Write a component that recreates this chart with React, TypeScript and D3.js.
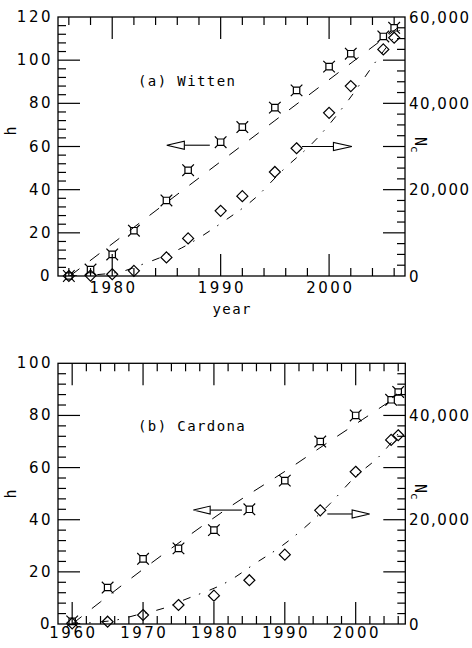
import React from "react";
import * as d3 from "d3";

// ---------- Panel (a) Witten ----------
const wittenYears = [1976, 1978, 1980, 1982, 1985, 1987, 1990, 1992, 1995, 1997, 2000, 2002, 2005, 2006];
const wittenH = [0, 3, 10, 21, 35, 49, 62, 69, 78, 86, 97, 103, 111, 115];
const wittenNc = [0, 100, 400, 1200, 4300, 8700, 15100, 18500, 24100, 29600, 37800, 44000, 52500, 55200];
const wittenHFitYears = [1976.1, 1985, 1995, 2007];
const wittenHFit = [0, 34, 72, 117.5];
const wittenNcFitYears = [1976, 1980.4, 1983, 1986.4, 1990.25, 1993.2, 1995.6, 1998.9, 2001.8, 2004.4, 2006.5];
const wittenNcFit = [0, 800, 2900, 6500, 12600, 18100, 24200, 31900, 40800, 50000, 57000];

// ---------- Panel (b) Cardona ----------
const cardonaYears = [1960, 1965, 1970, 1975, 1980, 1985, 1990, 1995, 2000, 2005, 2006];
const cardonaH = [1, 14, 25, 29, 36, 44, 55, 70, 80, 86, 89];
const cardonaNc = [130, 440, 1730, 3640, 5430, 8400, 13300, 21800, 29200, 35300, 36200];
const cardonaHFitYears = [1960, 1964, 1970, 1976, 1982, 1991, 1996, 2001, 2006.5];
const cardonaHFit = [0, 8.5, 21, 33, 44.5, 60.3, 69.5, 78.5, 88.5];
const cardonaNcFitYears = [1960, 1962.7, 1966.7, 1969, 1973.5, 1975.4, 1982.3, 1985.8, 1989.4, 1991.5, 1996.4, 1999.9, 2003.5, 2006];
const cardonaNcFit = [0, 250, 900, 1700, 3300, 4400, 8400, 11600, 14800, 17000, 23100, 28200, 32400, 36500];

// tick labels
const wittenXLabels = [1980, 1990, 2000];
const cardonaXLabels = [1960, 1970, 1980, 1990, 2000];
const wittenHLabels = [0, 20, 40, 60, 80, 100, 120];
const cardonaHLabels = [0, 20, 40, 60, 80, 100];
const wittenNcLabels = [0, 20000, 40000, 60000];
const cardonaNcLabels = [0, 20000, 40000];

const NUM_FONT = "'DejaVu Sans', sans-serif";
const TXT_FONT = "'DejaVu Sans Mono', monospace";

type Arrow = { y0: number; base: number; tip: number; val: number };

type PanelProps = {
  id: string;
  title: string;
  xDomain: [number, number];
  hMax: number;
  ncMax: number;
  ncMinor: number;
  top: number;
  bottom: number;
  left: number;
  right: number;
  xLabels: number[];
  hLabels: number[];
  ncLabels: number[];
  years: number[];
  h: number[];
  nc: number[];
  hFitYears: number[];
  hFit: number[];
  ncFitYears: number[];
  ncFit: number[];
  hArrow: Arrow;
  ncArrow: Arrow;
  xLabelBaseline: number;
  hLabelY: number;
  ncLabelY: number;
  titleY: number;
  showYear: boolean;
};

function SquareStar({ cx, cy }: { cx: number; cy: number }) {
  const s = 3.2;
  const e = 5.8;
  const d =
    `M${cx - s},${cy - s}H${cx + s}V${cy + s}H${cx - s}Z` +
    `M${cx - s},${cy - s}L${cx - e},${cy - e}` +
    `M${cx + s},${cy - s}L${cx + e},${cy - e}` +
    `M${cx + s},${cy + s}L${cx + e},${cy + e}` +
    `M${cx - s},${cy + s}L${cx - e},${cy + e}`;
  return <path d={d} fill="none" stroke="#000" strokeWidth={1.2} />;
}

function Diamond({ cx, cy }: { cx: number; cy: number }) {
  const r = 5.5;
  const d = `M${cx},${cy - r}L${cx + r},${cy}L${cx},${cy + r}L${cx - r},${cy}Z`;
  return <path d={d} fill="none" stroke="#000" strokeWidth={1.2} />;
}

function Panel(p: PanelProps) {
  const x = d3.scaleLinear().domain(p.xDomain).range([p.left, p.right]);
  const y = d3.scaleLinear().domain([0, p.hMax]).range([p.bottom, p.top]);
  const y2 = d3.scaleLinear().domain([0, p.ncMax]).range([p.bottom, p.top]);
  const MAJ = 22;
  const MIN = 8;

  const xTicks = d3
    .range(Math.ceil(p.xDomain[0] / 2) * 2, p.xDomain[1] + 0.001, 2)
    .filter((v) => v > p.xDomain[0] && v < p.xDomain[1]);
  const hTicks = d3.range(4, p.hMax, 4);
  const ncTicks = d3.range(p.ncMinor, p.ncMax, p.ncMinor);

  const hLine = d3
    .line<number>()
    .x((_, i) => x(p.hFitYears[i]))
    .y((d) => y(d))
    .curve(d3.curveMonotoneX);
  const ncLine = d3
    .line<number>()
    .x((_, i) => x(p.ncFitYears[i]))
    .y((d) => y2(d))
    .curve(d3.curveMonotoneX);

  const fmt = d3.format(",");
  const LSX = 2.5;
  const LSR = 1.5;

  const drawArrow = (a: Arrow, scale: (v: number) => number, key: string) => {
    const yy = scale(a.val);
    const x0 = x(a.y0);
    const xb = x(a.base);
    const xt = x(a.tip);
    const hh = 4;
    return (
      <g key={key} stroke="#000" strokeWidth={1.1} fill="#fff">
        <line x1={x0} x2={xb} y1={yy} y2={yy} />
        <path d={`M${xt},${yy}L${xb},${yy - hh}L${xb},${yy + hh}Z`} />
      </g>
    );
  };

  return (
    <g>
      <defs>
        <clipPath id={`clip-${p.id}`}>
          <rect x={p.left} y={p.top} width={p.right - p.left} height={p.bottom - p.top} />
        </clipPath>
      </defs>
      {/* ticks */}
      <g stroke="#000" strokeWidth={1.2}>
        {xTicks.map((v) => {
          const L = v % 10 === 0 ? MAJ : MIN;
          return (
            <g key={`xt${v}`}>
              <line x1={x(v)} x2={x(v)} y1={p.bottom} y2={p.bottom - L} />
              <line x1={x(v)} x2={x(v)} y1={p.top} y2={p.top + L} />
            </g>
          );
        })}
        {hTicks.map((v) => {
          const L = v % 20 === 0 ? MAJ : MIN;
          return <line key={`ht${v}`} x1={p.left} x2={p.left + L} y1={y(v)} y2={y(v)} />;
        })}
        {ncTicks.map((v) => {
          const L = v % 10000 === 0 ? MAJ : MIN;
          return <line key={`nt${v}`} x1={p.right} x2={p.right - L} y1={y2(v)} y2={y2(v)} />;
        })}
      </g>
      {/* frame */}
      <rect
        x={p.left}
        y={p.top}
        width={p.right - p.left}
        height={p.bottom - p.top}
        fill="none"
        stroke="#000"
        strokeWidth={1.3}
      />
      {/* fit curves */}
      <g clipPath={`url(#clip-${p.id})`} fill="none" stroke="#000" strokeWidth={1}>
        <path d={hLine(p.hFit) || ""} strokeDasharray="12 13" />
        <path d={ncLine(p.ncFit) || ""} strokeDasharray="8 9 1.5 10" />
      </g>
      {/* markers */}
      {p.years.map((yr, i) => (
        <Diamond key={`d${i}`} cx={x(yr)} cy={y2(p.nc[i])} />
      ))}
      {p.years.map((yr, i) => (
        <SquareStar key={`s${i}`} cx={x(yr)} cy={y(p.h[i])} />
      ))}
      {/* arrows */}
      {drawArrow(p.hArrow, y, "ha")}
      {drawArrow(p.ncArrow, y2, "na")}
      {/* tick labels */}
      <g fontFamily={NUM_FONT} fontSize={15} fill="#000">
        {p.xLabels.map((v) => (
          <text
            key={`xl${v}`}
            x={x(v) + LSX / 2}
            y={p.xLabelBaseline}
            textAnchor="middle"
            style={{ letterSpacing: `${LSX}px` }}
          >
            {v}
          </text>
        ))}
        {p.hLabels.map((v) => {
          const single = String(v).length === 1;
          return (
            <text
              key={`hl${v}`}
              x={single ? 49.5 : 50.5 + LSX}
              y={y(v) + 5}
              textAnchor="end"
              style={{ letterSpacing: single ? "0px" : `${LSX}px` }}
            >
              {v}
            </text>
          );
        })}
        {p.ncLabels.map((v) => (
          <text
            key={`nl${v}`}
            x={409}
            y={y2(v) + 5.5}
            textAnchor="start"
            style={{ letterSpacing: `${LSR}px` }}
          >
            {fmt(v)}
          </text>
        ))}
      </g>
      {/* axis titles */}
      <g fontFamily={TXT_FONT} fontSize={14} fill="#000">
        <text x={138} y={p.titleY} style={{ letterSpacing: "1.4px" }}>
          {p.title}
        </text>
        <text transform={`translate(16,${p.hLabelY}) rotate(-90)`} textAnchor="middle" fontSize={15}>
          h
        </text>
        <text transform={`translate(414.5,${p.ncLabelY}) rotate(90)`} fontSize={15}>
          N
          <tspan fontSize={11} dy={4}>
            c
          </tspan>
        </text>
        {p.showYear && (
          <text
            x={(p.left + p.right) / 2 + 0.7}
            y={314}
            textAnchor="middle"
            style={{ letterSpacing: "1.4px" }}
          >
            year
          </text>
        )}
      </g>
    </g>
  );
}

export default function App() {
  return (
    <svg
      width={472}
      height={648}
      viewBox="0 0 472 648"
      style={{ position: "absolute", left: 0, top: 0, background: "#fff", display: "block" }}
    >
      <rect x={0} y={0} width={472} height={648} fill="#fff" />
      <Panel
        id="a"
        title="(a) Witten"
        xDomain={[1975, 2007]}
        hMax={120}
        ncMax={60000}
        ncMinor={2500}
        top={17}
        bottom={276}
        left={58}
        right={405}
        xLabels={wittenXLabels}
        hLabels={wittenHLabels}
        ncLabels={wittenNcLabels}
        years={wittenYears}
        h={wittenH}
        nc={wittenNc}
        hFitYears={wittenHFitYears}
        hFit={wittenHFit}
        ncFitYears={wittenNcFitYears}
        ncFit={wittenNcFit}
        hArrow={{ y0: 1989.0, base: 1986.65, tip: 1985.03, val: 60.6 }}
        ncArrow={{ y0: 1997.5, base: 2000.4, tip: 2002.1, val: 30000 }}
        xLabelBaseline={293}
        hLabelY={131}
        ncLabelY={137}
        titleY={86}
        showYear={true}
      />
      <Panel
        id="b"
        title="(b) Cardona"
        xDomain={[1958, 2007]}
        hMax={100}
        ncMax={50000}
        ncMinor={2000}
        top={363.3}
        bottom={624}
        left={58}
        right={405.3}
        xLabels={cardonaXLabels}
        hLabels={cardonaHLabels}
        ncLabels={cardonaNcLabels}
        years={cardonaYears}
        h={cardonaH}
        nc={cardonaNc}
        hFitYears={cardonaHFitYears}
        hFit={cardonaHFit}
        ncFitYears={cardonaNcFitYears}
        ncFit={cardonaNcFit}
        hArrow={{ y0: 1983.95, base: 1979.47, tip: 1977.1, val: 43.7 }}
        ncArrow={{ y0: 1996.0, base: 1999.5, tip: 2001.97, val: 21100 }}
        xLabelBaseline={638}
        hLabelY={494}
        ncLabelY={484}
        titleY={431}
        showYear={false}
      />
    </svg>
  );
}
